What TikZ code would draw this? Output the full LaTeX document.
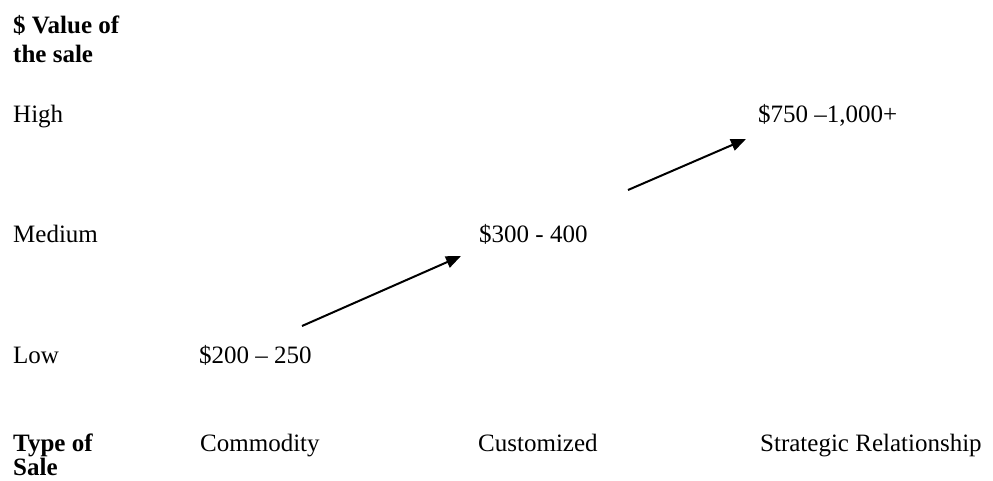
\documentclass[tikz,border=0pt]{standalone}
\usepackage{fontspec}
\setmainfont{Liberation Serif}
\usetikzlibrary{arrows.meta}
\tikzset{
  lbl/.style={anchor=base west, inner sep=0pt, align=left,
    font=\fontsize{25}{29}\selectfont},
  hdr/.style={lbl, font=\fontsize{25}{29}\selectfont\bfseries},
  rise/.style={line width=2pt, -{Triangle[length=15pt,width=12pt]}}
}
\begin{document}
\begin{tikzpicture}[x=1pt,y=-1pt]
  \useasboundingbox (0,0) rectangle (993,481);
  % axis titles (anchored on the baseline of their last line)
  \node[hdr] (ytitle) at (13,63) {\$ Value of\\the sale};
  \node[hdr, font=\fontsize{25}{24}\selectfont\bfseries] (xtitle) at (13,475) {Type of\\Sale};
  % value levels
  \node[lbl] (high) at (13,123) {High};
  \node[lbl] (medium) at (13,243) {Medium};
  \node[lbl] (low) at (13,363) {Low};
  % sale types
  \node[lbl] (commodity) at (200,451) {Commodity};
  \node[lbl] (customized) at (478,451) {Customized};
  \node[lbl] (strategic) at (760,451) {Strategic Relationship};
  % price ranges
  \node[lbl] (p1) at (199,363) {\$200 – 250};
  \node[lbl] (p2) at (479,243) {\$300 - 400};
  \node[lbl] (p3) at (758,123) {\$750 –1,000+};
  % growth arrows
  \coordinate (a1s) at (302,326);
  \coordinate (a1e) at (461,256);
  \coordinate (a2s) at (628,190);
  \coordinate (a2e) at (746,139);
  \draw[rise] (a1s) -- (a1e);
  \draw[rise] (a2s) -- (a2e);
\end{tikzpicture}
\end{document}
